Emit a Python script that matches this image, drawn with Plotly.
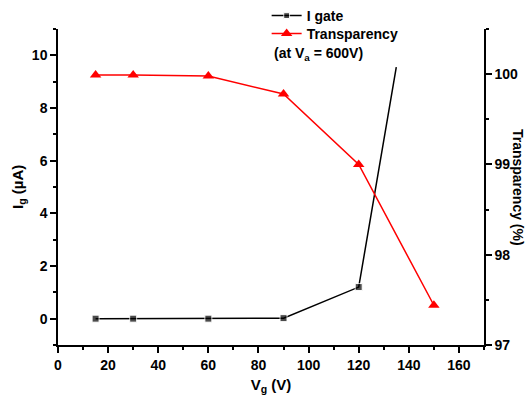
import plotly.graph_objects as go

# Gate voltage sweep (V)
vg_gate = [15, 30, 60, 90, 120, 135]
i_gate = [0.0, 0.0, 0.0, 0.02, 1.2, 9.55]       # gate current, µA
gate_marker_size = [7, 7, 7, 7, 7, 0]            # last point is the line's exit, no marker

vg_trans = [15, 30, 60, 90, 120, 150]
transparency = [99.99, 99.99, 99.98, 99.78, 99.0, 97.44]  # %

FONT = "Liberation Sans, Arial, sans-serif"
TICKFONT = dict(family=FONT, size=14, color="black", weight="bold")
LEGFONT = dict(family=FONT, size=14, color="black", weight="bold")
TITLEFONT = dict(family=FONT, size=15, color="black", weight="bold")

fig = go.Figure()

fig.add_trace(go.Scatter(
    x=vg_gate, y=i_gate, name="I gate", mode="lines+markers",
    line=dict(color="black", width=1.5),
    marker=dict(symbol="square", size=gate_marker_size, color="black"),
    yaxis="y", legend="legend",
))
fig.add_trace(go.Scatter(
    x=vg_trans, y=transparency, name="Transparency", mode="lines+markers",
    line=dict(color="#ff0000", width=1.5),
    marker=dict(symbol="triangle-up", size=10, color="#ff0000"),
    yaxis="y2", legend="legend2",
))

axis_common = dict(
    showgrid=False, zeroline=False, showline=True, linecolor="black", linewidth=1.5,
    ticks="outside", ticklen=6, tickwidth=1.5, tickcolor="black",
    tickfont=TICKFONT, automargin=False,
)
legend_common = dict(
    xref="container", yref="container", xanchor="left", yanchor="top",
    bgcolor="rgba(0,0,0,0)", itemwidth=30, font=LEGFONT,
)

fig.update_layout(
    width=528, height=400,
    margin=dict(l=58, r=44, t=29, b=55, autoexpand=False),
    paper_bgcolor="white", plot_bgcolor="white",
    font=dict(family=FONT, color="black"),
    showlegend=True,
    legend=dict(x=0.505, y=1.0, **legend_common),
    legend2=dict(x=0.505, y=0.955, **legend_common),
    xaxis=dict(
        range=[0, 170], dtick=20, tick0=0,
        minor=dict(dtick=10, ticks="outside", ticklen=3, tickcolor="black", tickwidth=1.5),
        title=dict(text="V<sub>g</sub> (V)", standoff=8, font=TITLEFONT),
        **axis_common,
    ),
    yaxis=dict(
        range=[-1, 11], dtick=2, tick0=0,
        minor=dict(dtick=1, ticks="outside", ticklen=3, tickcolor="black", tickwidth=1.5),
        **axis_common,
    ),
    yaxis2=dict(
        overlaying="y", side="right", anchor="x",
        range=[97, 100.5], dtick=1, tick0=97,
        minor=dict(dtick=0.5, ticks="outside", ticklen=3, tickcolor="black", tickwidth=1.5),
        **axis_common,
    ),
)

# Left axis title
fig.add_annotation(
    xref="paper", yref="paper", x=-0.094, y=0.50, xanchor="center", yanchor="middle",
    text="I<sub>g</sub> (µA)", textangle=-90, showarrow=False, font=TITLEFONT,
)
# Right axis title, reading top to bottom
fig.add_annotation(
    xref="paper", yref="paper", x=1.08, y=0.50, xanchor="center", yanchor="middle",
    text="Transparency (%)", textangle=90, showarrow=False,
    font=dict(family=FONT, size=14, color="black", weight="bold"),
)
# Measurement condition under the legend
fig.add_annotation(
    xref="paper", yref="paper", x=0.502, y=0.955, xanchor="left", yanchor="top",
    text="(at V<sub>a</sub> = 600V)", showarrow=False,
    font=dict(family=FONT, size=14, color="black", weight="bold"),
)

fig.write_html("out.html")
